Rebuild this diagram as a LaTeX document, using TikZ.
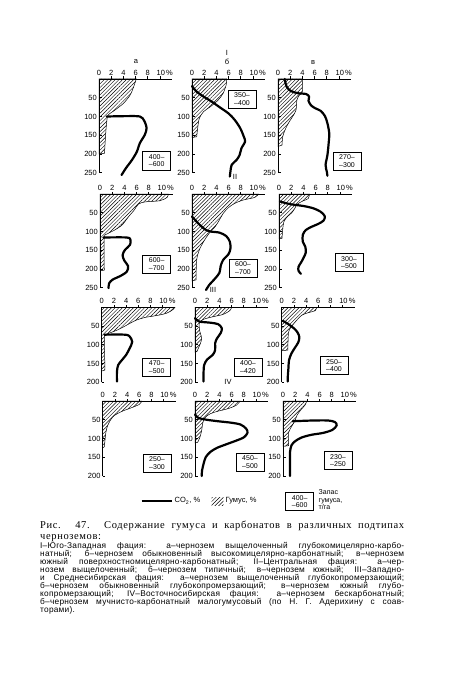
\documentclass[tikz,border=0pt]{standalone}
\usepackage{fontspec}
\setmainfont{Liberation Serif}
\newfontfamily\lsans{Liberation Sans}
\newfontfamily\capserif[LetterSpace=6]{Liberation Serif}
\newfontfamily\capsans[LetterSpace=3]{Liberation Sans}
\usetikzlibrary{patterns.meta}
\tikzset{
  axisline/.style={line width=0.7pt},
  lab/.style={font=\lsans\fontsize{7.5}{8}\selectfont, inner sep=0pt},
  letterlab/.style={font=\lsans\fontsize{7.5}{8}\selectfont, inner sep=0pt},
  hum/.style={draw, line width=0.5pt, pattern={Lines[angle=45,distance=2.6pt,line width=0.45pt]}},
  humswatch/.style={pattern={Lines[angle=45,distance=2.6pt,line width=0.5pt]}},
  co2/.style={line width=2.2pt, line join=round, line cap=round},
  stockbox/.style={draw, line width=0.6pt, font=\lsans\fontsize{7}{7.5}\selectfont, align=center, minimum width=28pt, minimum height=18pt, inner sep=1pt},
  captitle/.style={font=\capserif\fontsize{10.5}{11}\selectfont, inner sep=0pt, anchor=base west},
  capline/.style={font=\capsans\fontsize{8.3}{8.5}\selectfont, inner sep=0pt, anchor=base west},
}
% #1 name, #2 ax, #3 ay, #4 max depth, #5 humus plot coords, #6 end depth of humus, #7 co2 drawing
\newcommand{\chartpanel}[7]{%
  \begin{scope}[shift={(#2pt,-#3pt)}, x=6.1pt, y=-0.375pt]
    \draw[hum] (0,0) -- plot[smooth, tension=0.5] coordinates {#5} -- (0,#6) -- cycle;
    \draw[axisline] (0,#4) -- (0,0) -- (12,0);
    \foreach \t in {2,4,6,8,10} \draw[axisline] (\t,0) -- ++(0pt,2.5pt);
    \foreach \t in {0,2,4,6,8} \node[lab,anchor=south,yshift=3.5pt] (#1-x\t) at (\t,0) {\t};
    \node[lab,anchor=south west,xshift=-3.6pt,yshift=3.5pt] (#1-x10) at (10,0) {10\,\%};
    \foreach \d in {50,100,...,#4} {
      \draw[axisline] (0,\d) -- ++(2.5pt,0pt);
      \node[lab,anchor=east,xshift=-2pt] (#1-y\d) at (0,\d) {\d};
    }
    #7
  \end{scope}}
\begin{document}
\begin{tikzpicture}[x=1pt,y=-1pt]
\fill[white] (0,0) rectangle (450,695);
\path[use as bounding box] (0,0) rectangle (450,695);

% ---------- Row I ----------
\chartpanel{p11}{99}{79}{250}
 {(6.1,0) (5.7,20) (5.1,43) (4.0,65) (2.6,83) (1.5,96) (1.3,109) (1.1,145) (0.9,198)}{200}
 {\draw[co2] plot[smooth, tension=0.5] coordinates {(1.26,100) (4.5,99) (6.7,100) (7.4,111) (7.8,131) (7.5,149) (6.7,171) (6.2,194) (5.4,216) (4.4,238) (3.7,256)};}
\chartpanel{p12}{192}{79}{250}
 {(5.7,0) (5.6,16) (5.1,38) (4.3,56) (3.0,74) (1.9,87) (1.2,105) (0.93,131) (0.77,154)}{156}
 {\draw[co2] plot[smooth, tension=0.5] coordinates {(0,19) (0.77,34) (1.9,47) (3.2,60) (4.6,76) (6.0,92) (7.0,109) (7.9,131) (8.5,154) (8.7,167) (8.1,185) (7.8,203) (7.3,216) (6.5,229) (6.3,247) (6.2,260)};}
\chartpanel{p13}{278}{79}{250}
 {(4.0,0) (4.0,34) (3.5,43) (3.1,56) (2.95,83) (2.4,100) (1.7,118) (1.15,136) (0.77,154) (0.66,176)}{180}
 {\draw[co2] plot[smooth, tension=0.5] coordinates {(1.1,0) (1.4,20) (2.1,32) (3.3,38) (4.6,40) (5.1,47) (5.0,58) (5.4,70) (6.1,78) (7.0,85) (7.7,99) (8.1,118) (8.4,145) (8.3,172) (8.1,203) (7.8,229) (8.0,247) (8.1,258)};}

% ---------- Row II ----------
\chartpanel{p21}{100}{194}{250}
 {(11.2,0) (11.0,9) (9.8,18) (7.4,21) (6.3,27) (5.6,43) (4.6,62) (3.6,83) (2.2,98) (1.1,107) (0.7,118) (0.7,203)}{205}
 {\draw[co2] plot[smooth, tension=0.5] coordinates {(0.55,116) (4.4,116) (5.0,123) (4.9,136) (4.1,149) (3.7,163) (4.0,178) (4.6,192) (4.4,207) (3.3,219) (2.1,228) (1.5,238) (1.4,251)};}
\chartpanel{p22}{192}{194}{250}
 {(10.9,0) (10.3,9) (8.4,16) (7.0,25) (6.0,36) (5.1,52) (4.5,69) (3.8,87) (2.8,105) (1.9,127) (1.2,149) (0.77,176) (0.66,229)}{232}
 {\draw[co2] plot[smooth, tension=0.5] coordinates {(0,60) (1.0,78) (2.1,94) (3.0,100) (4.5,103) (5.6,112) (6.2,127) (6.3,145) (6.0,160) (5.1,176) (4.7,192) (4.5,210) (3.8,225) (2.8,243) (2.3,256)};}
\chartpanel{p23}{279}{194}{250}
 {(5.0,0) (4.8,12) (4.0,18) (3.0,27) (2.6,38) (2.1,50) (1.4,60) (0.8,74) (0.6,96) (0.5,118)}{120}
 {\draw[co2] plot[smooth, tension=0.5] coordinates {(0.16,20) (1.8,27) (4.0,32) (5.6,38) (6.8,47) (7.5,59) (7.3,71) (6.4,80) (5.4,87) (4.4,96) (3.9,109) (3.9,127) (4.3,140) (4.4,156) (4.0,171) (3.6,183) (3.2,194) (3.2,205) (3.6,213)};}

% ---------- Row III ----------
\chartpanel{p31}{101.7}{307.3}{200}
 {(12.0,0) (11.6,7) (10.6,16) (9.0,22) (7.1,27) (5.7,34) (4.6,43) (3.6,52) (2.5,61) (1.4,68) (0.54,74) (0.43,87) (0.54,167)}{170}
 {\draw[co2] plot[smooth, tension=0.5] coordinates {(0.43,73) (3.8,73) (4.6,78) (5.0,92) (4.6,109) (4.0,127) (3.3,141) (2.7,154) (2.5,172) (2.5,198)};}
\chartpanel{p32}{195}{307.3}{200}
 {(6.0,0) (5.7,9) (4.6,19) (3.0,25) (1.4,32) (0.7,43) (0.8,65) (1.1,83) (0.8,100) (0.3,118)}{120}
 {\draw[co2] plot[smooth, tension=0.5] coordinates {(0,29) (0.7,38) (2.5,41) (3.8,45) (4.4,56) (4.2,69) (3.6,83) (3.3,96) (3.3,114) (2.9,127) (2.0,139) (1.5,154) (1.4,176) (1.4,198)};}
\chartpanel{p33}{281.7}{307.3}{200}
 {(5.7,0) (5.5,9) (4.4,14) (3.3,21) (2.6,32) (1.9,45) (1.4,56) (1.1,69) (1.0,114)}{116}
 {\draw[co2] plot[smooth, tension=0.5] coordinates {(0.16,36) (1.1,45) (2.0,56) (2.6,67) (2.9,80) (2.7,94) (2.2,107) (1.6,123) (1.2,141) (1.1,163) (1.0,185) (1.0,198)};}

% ---------- Row IV ----------
\chartpanel{p41}{102.7}{401}{200}
 {(6.4,0) (6.0,9) (4.7,18) (3.1,28) (1.8,40) (1.2,53) (0.75,68) (0.5,86) (0.38,104) (0.26,122)}{125}
 {}
\chartpanel{p42}{195}{401}{200}
 {(7.4,0) (6.8,11) (5.5,20) (3.8,27) (2.5,34) (1.6,45) (1.25,60) (1.1,78) (0.8,97) (0.44,110)}{112}
 {\draw[co2] plot[smooth, tension=0.5] coordinates {(0,36) (0.55,45) (1.9,50) (3.8,54) (6.0,58) (7.5,63) (8.4,74) (8.6,85) (8.0,97) (6.7,106) (5.2,115) (3.6,125) (2.5,136) (1.75,150) (1.4,168) (1.15,186) (1.1,200)};}
\chartpanel{p43}{283}{401}{200}
 {(3.9,0) (3.6,11) (2.9,24) (2.3,38) (2.0,51) (1.7,60) (1.26,72) (0.93,83) (0.93,119)}{121}
 {\draw[co2] plot[smooth, tension=0.5] coordinates {(1.6,54) (4.9,52) (7.4,52) (8.5,56) (8.8,65) (8.1,77) (6.6,85) (4.7,90) (3.1,97) (2.0,107) (1.4,118) (1.15,136) (1.15,163) (1.15,200)};}

% ---------- stock boxes ----------
\node[stockbox] (b11) at (156.7,160.8) {400–\\–600};
\node[stockbox] (b12) at (242,99) {350–\\–400};
\node[stockbox] (b13) at (347,161) {270–\\–300};
\node[stockbox] (b21) at (156.7,264) {600–\\–700};
\node[stockbox] (b22) at (243,268) {600–\\–700};
\node[stockbox] (b23) at (349,262.5) {300–\\–500};
\node[stockbox] (b31) at (156.7,367) {470–\\–500};
\node[stockbox] (b32) at (248,367) {400–\\–420};
\node[stockbox] (b33) at (334,365.5) {250–\\–400};
\node[stockbox] (b41) at (157,463) {250–\\–300};
\node[stockbox] (b42) at (250,462) {450–\\–500};
\node[stockbox] (b43) at (338,460.5) {230–\\–250};

% ---------- letters ----------
\node[letterlab] (la) at (136,62) {а};
\node[letterlab] (lI) at (227,53) {I};
\node[letterlab] (lb) at (227,62) {б};
\node[letterlab] (lv) at (313,63) {в};
\node[letterlab] (lII) at (235,177) {II};
\node[letterlab] (lIII) at (213,290) {III};
\node[letterlab] (lIV) at (228,382) {IV};

% ---------- legend ----------
\coordinate (lg1) at (141.7,501);
\coordinate (lg2) at (171.7,501);
\draw[co2, line cap=butt] (lg1) -- (lg2);
\node[lab,anchor=west] (lgco2) at (174.5,501) {CO\textsubscript{2}, \%};
\path[humswatch] (211.7,497) rectangle (223.3,505);
\node[lab,anchor=west] (lghum) at (225.5,501) {Гумус, \%};
\node[stockbox] (lgbox) at (299.7,501.5) {400–\\–600};
\node[lab,anchor=west,align=left,font=\lsans\fontsize{7}{7.5}\selectfont] (lgtxt) at (318.5,500) {Запас\\гумуса,\\т/га};

% ---------- caption ----------
\node[captitle] (cap0) at (40,528) {\makebox[364pt][s]{Рис. 47. Содержание гумуса и карбонатов в различных подтипах}};
\node[captitle] (cap1) at (40,539) {черноземов:};
\node[capline] (c1) at (40,548) {\makebox[364pt][s]{I–Юго-Западная фация: а–чернозем выщелоченный глубокомицелярно-карбо-}};
\node[capline] (c2) at (40,556) {\makebox[364pt][s]{натный; б–чернозем обыкновенный высокомицелярно-карбонатный; в–чернозем}};
\node[capline] (c3) at (40,564) {\makebox[364pt][s]{южный поверхностномицелярно-карбонатный; II–Центральная фация: а–чер-}};
\node[capline] (c4) at (40,572) {\makebox[364pt][s]{нозем выщелоченный; б–чернозем типичный; в–чернозем южный; III–Западно-}};
\node[capline] (c5) at (40,580) {\makebox[364pt][s]{и Среднесибирская фация: а–чернозем выщелоченный глубокопромерзающий;}};
\node[capline] (c6) at (40,588) {\makebox[364pt][s]{б–чернозем обыкновенный глубокопромерзающий; в–чернозем южный глубо-}};
\node[capline] (c7) at (40,596) {\makebox[364pt][s]{копромерзающий; IV–Восточносибирская фация: а–чернозем бескарбонатный;}};
\node[capline] (c8) at (40,604) {\makebox[364pt][s]{б–чернозем мучнисто-карбонатный малогумусовый (по Н. Г. Адерихину с соав-}};
\node[capline] (c9) at (40,612) {торами).};
\end{tikzpicture}
\end{document}
